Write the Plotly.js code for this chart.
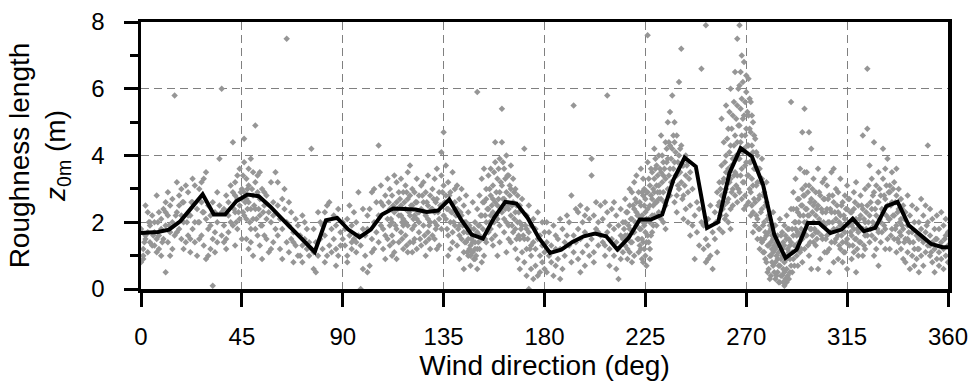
<!DOCTYPE html>
<html>
<head>
<meta charset="utf-8">
<script src="https://cdn.plot.ly/plotly-3.0.1.min.js"></script>
<style>html,body{margin:0;padding:0;background:#fff;}#chart{width:974px;height:385px;}</style>
</head>
<body>
<div id="chart"></div>
<script>
// Bin-averaged roughness length (5-degree bins)
const lineDir = [0,2.5,7.5,12.5,17.5,22.5,27.5,32.5,37.5,42.5,47.5,52.5,57.5,62.5,67.5,72.5,77.5,82.5,87.5,
  92.5,97.5,102.5,107.5,112.5,117.5,122.5,127.5,132.5,137.5,142.5,147.5,152.5,157.5,162.5,167.5,172.5,177.5,
  182.5,187.5,192.5,197.5,202.5,207.5,212.5,217.5,222.5,227.5,232.5,237.5,242.5,247.5,252.5,257.5,262.5,267.5,
  272.5,277.5,282.5,287.5,292.5,297.5,302.5,307.5,312.5,317.5,322.5,327.5,332.5,337.5,342.5,347.5,352.5,357.5,360];
const lineZ0m = [1.68,1.68,1.71,1.78,2.03,2.43,2.84,2.23,2.23,2.63,2.83,2.78,2.48,2.13,1.78,1.43,1.11,2.06,2.13,
  1.78,1.55,1.78,2.23,2.41,2.40,2.38,2.31,2.35,2.68,2.11,1.63,1.51,2.13,2.61,2.56,2.13,1.53,
  1.08,1.18,1.41,1.58,1.66,1.58,1.18,1.53,2.08,2.08,2.23,3.27,3.94,3.67,1.83,2.01,3.47,4.22,
  3.97,3.12,1.63,0.93,1.18,1.98,1.98,1.68,1.78,2.11,1.73,1.83,2.48,2.61,1.91,1.63,1.35,1.25,1.25];

// Individual observations [wind direction (deg), z0m (m)], estimated from the figure
const scatterPoints = [
[0,1.8],[1,1.2],[1,0.9],[2,1.5],[2,2.5],[3,1.1],[3,2.3],[4,1.4],[4,1.9],[5,1.3],[5,2.2],[0,0.8],[2,1.6],[4,2.0],[1,1.0],[3,1.7],
[6,1.3],[6,2.0],[7,2.8],[7,1.1],[8,1.6],[8,2.3],[9,1.0],[9,1.8],[10,1.5],[10,2.4],[6,1.7],[8,1.2],[9,2.1],[11,0.5],[7,1.5],
[11,2.6],[11,1.9],[12,1.4],[12,2.2],[13,1.7],[13,2.5],[14,1.2],[14,2.0],[12,2.9],[15,1.6],[15,5.8],[13,1.0],[11,2.3],[14,2.7],
[16,3.2],[16,2.3],[17,1.8],[17,2.8],[18,1.5],[18,3.0],[19,2.0],[19,2.6],[20,1.4],[20,3.1],[16,1.7],[18,2.2],[19,1.2],[17,2.5],
[21,1.6],[21,2.9],[22,2.2],[22,1.1],[23,2.6],[23,1.8],[24,3.1],[24,1.4],[25,2.4],[25,1.0],[21,2.2],[23,3.3],[24,2.0],[22,1.5],
[26,2.0],[26,3.0],[27,1.6],[27,2.6],[28,3.3],[28,1.3],[29,3.5],[29,2.1],[30,1.0],[30,2.5],[26,1.5],[27,3.2],[28,2.3],[29,0.9],[30,1.8],
[31,2.2],[31,1.2],[32,0.1],[32,2.6],[33,1.7],[33,2.3],[34,1.4],[34,2.0],[35,3.9],[35,2.5],[31,1.9],[33,1.1],[34,2.9],[32,1.5],
[36,6.0],[36,1.6],[37,2.4],[37,1.9],[38,2.8],[38,1.2],[39,2.2],[39,1.7],[40,3.1],[40,2.0],[36,2.3],[38,1.5],[39,2.6],[37,1.4],
[41,4.4],[41,2.9],[42,2.3],[42,3.2],[43,1.8],[43,2.7],[44,3.6],[44,2.1],[45,3.0],[45,1.5],[41,1.9],[42,1.3],[43,3.4],[44,2.5],[45,2.7],[42,2.8],
[46,4.5],[46,3.8],[46,2.9],[47,3.3],[47,2.1],[47,1.5],[48,3.1],[48,2.6],[48,1.2],[49,3.9],[49,2.4],[49,1.8],[50,3.5],[50,2.8],[50,1.0],[46,2.2],[47,2.7],[48,3.6],[49,1.4],[50,2.1],
[51,4.9],[51,3.2],[51,2.4],[52,2.9],[52,1.6],[52,3.4],[53,2.2],[53,1.3],[53,2.7],[54,3.0],[54,1.9],[54,0.9],[55,2.5],[55,1.6],[51,1.8],[53,3.5],[55,2.9],
[56,2.8],[56,1.5],[57,2.3],[57,1.1],[58,2.0],[58,3.2],[59,1.4],[59,2.6],[60,1.8],[60,3.5],[56,2.1],[58,1.2],[59,2.2],
[61,2.5],[61,1.6],[62,1.2],[62,2.1],[63,1.8],[63,0.9],[64,2.4],[64,3.0],[65,1.4],[65,7.5],[61,3.2],[63,2.7],[65,2.0],
[66,1.9],[66,1.1],[67,1.5],[67,2.3],[68,0.8],[68,1.7],[69,1.3],[69,2.1],[70,1.0],[70,1.9],[66,2.6],[68,1.4],
[71,1.6],[71,1.0],[72,1.3],[72,0.8],[73,2.0],[73,1.5],[74,1.2],[74,1.8],[75,1.0],[75,1.4],[72,2.2],
[76,4.2],[76,1.2],[77,0.6],[77,1.8],[78,0.5],[78,1.4],[79,2.3],[79,1.0],[80,2.0],[80,1.5],[77,1.1],
[81,1.9],[81,1.2],[82,1.6],[82,2.3],[83,1.0],[83,2.5],[84,2.6],[84,1.3],[85,1.8],[85,1.1],[82,0.8],
[86,1.5],[86,2.2],[87,1.2],[87,1.9],[88,2.4],[88,1.0],[89,1.7],[89,1.3],[90,2.0],[90,1.5],[87,0.7],
[91,1.8],[91,1.3],[92,2.1],[92,1.0],[93,1.6],[93,2.5],[94,1.2],[94,1.9],[95,1.5],[95,2.3],[92,0.8],[94,1.4],
[96,1.1],[96,2.0],[97,2.9],[97,1.6],[98,0.0],[98,1.3],[99,1.8],[99,2.4],[100,1.0],[100,1.6],[96,1.4],[99,0.6],
[101,0.5],[101,1.8],[102,0.7],[102,2.4],[103,1.5],[103,2.9],[104,2.0],[104,1.2],[105,2.6],[105,1.7],[101,2.2],[103,1.1],[104,3.0],
[106,4.3],[106,2.2],[106,1.4],[107,3.1],[107,1.9],[108,2.5],[108,1.2],[109,2.8],[109,1.6],[110,3.3],[110,2.1],[107,2.6],[108,1.8],[109,0.9],[110,1.5],
[111,2.4],[111,1.3],[111,3.0],[112,2.0],[112,2.8],[112,1.6],[113,3.4],[113,2.3],[113,1.1],[114,2.6],[114,1.8],[114,3.2],[115,2.2],[115,1.4],[115,2.9],[112,1.0],[114,0.9],[111,1.9],
[116,3.3],[116,2.5],[116,1.7],[117,2.1],[117,2.9],[117,1.2],[118,3.1],[118,2.4],[118,1.6],[119,2.7],[119,1.9],[119,3.5],[120,2.2],[120,1.4],[120,3.7],[117,1.9],[118,2.0],[119,1.1],[116,2.2],[120,2.8],
[121,2.5],[121,1.8],[121,3.0],[122,2.2],[122,1.5],[122,2.9],[123,2.6],[123,1.2],[123,3.3],[124,2.0],[124,1.7],[124,2.8],[125,2.4],[125,1.3],[125,3.1],[122,1.9],[124,2.3],[121,1.1],[123,2.1],
[126,2.6],[126,1.9],[126,3.2],[127,2.2],[127,1.4],[127,2.9],[128,2.5],[128,1.7],[128,3.4],[129,2.0],[129,1.2],[129,2.8],[130,2.4],[130,3.0],[130,1.6],[127,1.0],[128,2.1],
[131,2.3],[131,1.5],[131,3.3],[132,2.7],[132,1.9],[132,3.6],[133,2.1],[133,2.9],[133,1.3],[134,4.1],[134,2.5],[134,1.8],[135,4.7],[135,3.1],[135,2.2],[132,1.2],[134,3.4],[131,2.0],
[136,2.8],[136,2.1],[136,3.7],[137,2.4],[137,1.6],[137,3.2],[138,2.0],[138,2.9],[138,1.2],[139,3.5],[139,2.3],[139,1.7],[140,2.6],[140,1.9],[140,3.0],[137,1.0],[139,1.4],
[141,2.4],[141,1.3],[141,3.1],[142,1.9],[142,2.7],[142,0.9],[143,1.5],[143,2.2],[143,3.0],[144,1.7],[144,2.5],[144,1.1],[145,2.0],[145,1.4],[145,2.8],[142,1.6],[144,0.6],
[146,1.5],[146,1.0],[146,2.3],[147,1.3],[147,1.8],[147,0.7],[148,1.6],[148,2.6],[148,1.1],[149,1.4],[149,2.0],[149,0.9],[150,1.7],[150,1.2],[150,5.9],[150,2.4],[147,1.0],[148,1.4],[149,1.2],[146,1.7],[150,0.6],
[151,1.9],[151,1.2],[151,2.8],[152,2.2],[152,1.5],[152,3.3],[153,2.6],[153,1.0],[153,3.6],[154,2.0],[154,1.4],[154,3.0],[155,2.4],[155,1.7],[155,3.4],[152,0.8],[154,2.7],[151,1.6],
[156,2.8],[156,1.8],[156,3.6],[157,2.3],[157,3.1],[157,1.3],[158,4.4],[158,2.6],[158,3.8],[158,1.6],[159,3.3],[159,2.1],[159,1.0],[160,2.9],[160,3.9],[160,1.9],[156,2.2],[157,2.7],[159,2.5],[160,1.4],
[161,5.4],[161,4.4],[161,3.1],[161,2.3],[162,3.6],[162,2.7],[162,1.7],[163,4.0],[163,2.9],[163,2.0],[163,1.1],[164,3.4],[164,2.4],[164,1.5],[165,3.0],[165,2.2],[165,3.7],[162,2.1],[164,1.9],[165,1.4],
[166,2.6],[166,1.7],[166,3.3],[167,2.3],[167,1.2],[167,3.0],[168,2.0],[168,2.8],[168,0.9],[169,1.5],[169,2.5],[169,0.6],[170,1.9],[170,1.1],[170,2.7],[167,1.8],[169,2.0],
[171,4.2],[171,1.5],[171,0.8],[172,2.2],[172,1.2],[172,0.4],[173,1.7],[173,0.0],[173,2.5],[174,1.0],[174,1.9],[174,0.6],[175,1.4],[175,0.3],[175,2.1],[172,1.8],[174,1.3],
[176,1.2],[176,0.7],[176,1.8],[177,1.5],[177,0.4],[177,2.3],[178,1.0],[178,0.5],[178,1.6],[179,1.3],[179,0.8],[179,2.0],[180,1.1],[180,0.6],[180,1.7],
[181,1.4],[181,0.5],[181,2.0],[182,1.0],[182,1.7],[183,0.8],[183,1.3],[184,1.9],[184,0.4],[185,1.2],[185,0.7],[185,1.6],
[186,1.5],[186,0.9],[187,2.1],[187,1.2],[188,0.6],[188,1.8],[189,1.4],[189,1.0],[190,2.2],[190,1.6],[187,0.3],
[191,1.3],[191,2.0],[192,2.8],[192,0.8],[193,5.5],[193,1.6],[193,1.1],[194,2.4],[194,1.4],[195,1.8],[195,0.9],[195,2.3],
[196,1.5],[196,2.5],[197,1.1],[197,2.0],[198,1.7],[198,0.7],[199,2.4],[199,1.3],[200,2.1],[200,1.0],[196,0.5],[198,2.2],
[201,3.9],[201,3.4],[201,1.5],[202,2.2],[202,1.1],[203,1.8],[203,2.6],[204,1.3],[204,2.0],[205,1.6],[205,2.5],[202,0.8],[204,1.7],
[206,2.1],[206,1.4],[207,2.6],[207,1.0],[208,5.8],[208,1.7],[208,2.3],[209,1.2],[209,1.9],[210,2.4],[210,1.5],[207,1.3],[209,0.7],
[211,1.8],[211,1.0],[211,2.6],[212,1.4],[212,2.2],[212,0.6],[213,1.2],[213,1.9],[214,0.9],[214,2.4],[215,1.5],[215,1.1],[215,2.0],[213,0.3],[214,1.6],
[216,1.3],[216,2.0],[216,2.7],[217,1.6],[217,2.3],[217,0.9],[218,2.5],[218,1.8],[218,1.1],[219,2.9],[219,2.1],[219,1.4],[220,3.2],[220,2.4],[220,1.7],[217,1.2],[218,3.0],[219,0.8],[220,1.0],[216,1.6],
[221,2.6],[221,1.9],[221,3.4],[222,2.2],[222,1.5],[222,2.9],[223,3.6],[223,2.5],[223,1.8],[223,1.2],[224,2.0],[224,2.8],[224,1.4],[224,3.3],[225,2.3],[225,1.7],[225,1.0],[225,2.7],[222,1.1],[221,2.3],[223,2.1],[224,0.8],[225,2.0],
[226,7.6],[226,3.8],[226,2.4],[226,1.6],[227,3.1],[227,2.0],[227,1.2],[228,3.5],[228,2.7],[228,1.7],[229,4.2],[229,2.9],[229,2.2],[230,3.7],[230,2.6],[230,1.9],[227,2.5],[228,2.2],[229,3.3],[230,3.1],[226,2.9],[227,0.9],
[231,4.0],[231,3.1],[231,2.3],[232,3.5],[232,2.7],[232,4.6],[233,3.8],[233,2.9],[233,2.0],[234,4.4],[234,3.3],[234,2.5],[235,3.9],[235,3.0],[235,5.0],[232,2.1],[233,3.4],[234,1.8],[231,2.7],
[236,5.3],[236,3.6],[236,2.8],[237,5.8],[237,4.2],[237,3.2],[238,5.0],[238,3.8],[238,2.6],[239,4.6],[239,3.4],[239,2.3],[240,4.0],[240,3.0],[240,6.2],[238,4.4],[236,4.3],[239,2.8],
[241,7.2],[241,4.3],[241,3.2],[242,3.7],[242,2.8],[242,2.1],[243,4.0],[243,3.4],[243,2.4],[244,3.8],[244,2.9],[244,2.0],[245,3.5],[245,2.5],[245,1.6],
[246,1.9],[246,3.0],[247,0.9],[247,2.2],[248,1.7],[248,2.6],[249,1.3],[250,6.6],[250,2.0],[249,2.4],
[251,1.2],[251,1.9],[252,7.9],[252,1.5],[252,0.8],[253,2.1],[253,1.3],[254,1.0],[254,2.5],[255,0.6],[255,1.7],[253,0.9],
[256,1.5],[256,2.3],[257,2.0],[257,1.1],[258,3.2],[258,2.6],[259,3.7],[259,2.8],[259,5.1],[260,4.4],[260,3.3],[260,2.5],[257,2.9],[258,1.8],
[261,5.5],[261,4.0],[261,3.0],[261,2.2],[262,4.8],[262,3.6],[262,2.7],[263,6.0],[263,4.3],[263,3.3],[263,2.4],[264,5.2],[264,3.9],[264,3.0],[265,4.6],[265,3.5],[265,6.5],[262,2.0],[264,2.5],[265,2.8],[261,3.5],[263,1.8],
[266,7.5],[266,5.5],[266,4.4],[266,3.4],[267,6.1],[267,4.9],[267,3.9],[267,2.9],[268,5.7],[268,4.6],[268,3.6],[268,2.7],[269,6.8],[269,5.2],[269,4.2],[269,3.2],[270,5.9],[270,4.8],[270,3.8],[270,2.5],[267,7.9],[268,7.0],[266,2.6],[269,2.4],[270,6.4],
[271,6.3],[271,5.2],[271,4.3],[271,3.4],[272,5.6],[272,4.7],[272,3.8],[272,2.9],[273,5.0],[273,4.1],[273,3.1],[273,2.3],[274,4.5],[274,3.6],[274,2.6],[275,4.0],[275,3.2],[275,2.1],[272,2.2],[274,1.9],[275,1.5],[271,2.6],[273,1.7],
[276,3.6],[276,2.8],[276,1.8],[277,3.3],[277,2.4],[277,1.4],[278,2.9],[278,2.0],[278,1.1],[279,2.6],[279,1.6],[279,0.8],[280,2.2],[280,1.3],[280,0.6],[277,3.9],[279,3.2],[276,1.2],[278,1.5],[280,1.7],
[281,1.8],[281,1.0],[281,0.4],[282,1.5],[282,0.7],[282,2.3],[283,1.2],[283,0.3],[283,1.9],[284,0.9],[284,1.6],[284,0.5],[285,1.3],[285,0.2],[285,2.1],[282,1.1],[283,0.8],[284,1.3],[281,1.4],[285,0.7],[283,1.6],
[286,1.0],[286,0.4],[286,1.7],[287,0.8],[287,1.3],[287,0.1],[288,1.5],[288,0.6],[288,2.2],[289,1.1],[289,0.3],[289,1.8],[290,5.6],[290,1.4],[290,0.7],[290,2.4],[286,1.2],[287,0.5],[288,0.9],[289,1.5],[288,0.2],[287,1.9],
[291,1.6],[291,2.4],[291,0.9],[292,2.0],[292,1.3],[292,3.3],[293,2.7],[293,1.7],[293,0.7],[294,2.2],[294,1.1],[294,3.6],[295,4.7],[295,2.5],[295,1.5],[295,3.0],[292,1.8],[293,2.3],[294,1.6],[291,2.9],[295,0.8],
[296,5.4],[296,2.8],[296,2.0],[296,1.2],[297,3.5],[297,2.4],[297,1.6],[298,4.7],[298,3.1],[298,2.2],[298,1.0],[299,4.2],[299,2.7],[299,1.8],[300,3.3],[300,2.5],[300,1.4],[297,2.0],[299,0.6],[300,2.0],[296,3.5],
[301,2.9],[301,2.2],[301,1.3],[302,3.6],[302,2.5],[302,1.7],[303,2.0],[303,2.8],[303,0.9],[304,3.2],[304,2.3],[304,1.5],[305,2.7],[305,1.9],[305,1.1],[302,0.6],[304,1.9],[301,1.7],[305,3.3],
[306,2.4],[306,1.6],[306,3.1],[307,2.0],[307,2.8],[307,1.2],[308,3.5],[308,2.3],[308,1.4],[309,2.6],[309,1.8],[309,0.8],[310,3.0],[310,2.1],[310,1.5],[307,0.5],[309,3.6],[306,1.1],
[311,2.3],[311,1.6],[311,2.9],[312,1.9],[312,1.2],[312,3.3],[313,2.6],[313,1.4],[313,0.8],[314,2.1],[314,1.7],[314,2.8],[315,1.5],[315,2.4],[315,3.1],[312,2.2],[313,1.9],[314,1.1],[311,0.9],[315,0.6],
[316,2.0],[316,1.3],[316,2.7],[317,1.6],[317,2.3],[317,0.9],[318,2.9],[318,1.8],[318,1.1],[319,2.1],[319,1.5],[319,3.2],[320,1.7],[320,2.5],[320,1.0],[317,1.9],[319,0.5],[318,2.4],
[321,2.2],[321,1.4],[321,2.8],[322,4.6],[322,1.8],[322,2.4],[323,1.2],[323,2.0],[323,3.0],[324,6.6],[324,4.8],[324,1.6],[324,2.5],[325,3.7],[325,2.2],[325,1.4],[322,1.0],[323,1.6],
[326,3.3],[326,2.4],[326,1.6],[327,4.4],[327,2.9],[327,1.9],[328,3.1],[328,2.2],[328,1.2],[329,2.6],[329,1.7],[329,3.5],[330,2.0],[330,2.8],[330,1.4],[327,1.0],[329,0.7],
[331,4.2],[331,3.3],[331,2.3],[332,2.7],[332,1.8],[332,3.6],[333,3.9],[333,2.5],[333,1.5],[334,3.1],[334,2.1],[334,1.2],[335,3.5],[335,2.6],[335,1.8],[332,1.2],[334,2.9],
[336,3.2],[336,2.2],[336,1.5],[337,2.8],[337,1.9],[337,3.6],[338,2.4],[338,1.4],[338,3.0],[339,2.1],[339,1.2],[339,2.7],[340,1.8],[340,2.5],[340,0.9],[337,1.1],[339,1.6],
[341,2.3],[341,1.5],[341,0.8],[342,1.9],[342,2.8],[342,1.1],[343,1.4],[343,2.2],[343,0.6],[344,2.5],[344,1.7],[345,1.2],[345,2.0],[345,0.7],[342,1.5],[344,1.0],
[346,1.6],[346,2.4],[346,0.9],[347,1.2],[347,2.0],[347,0.5],[348,1.8],[348,2.7],[348,1.0],[349,1.4],[349,2.2],[349,0.7],[350,1.7],[350,1.1],[350,2.5],[347,1.5],
[351,4.3],[351,1.3],[351,2.0],[352,1.0],[352,1.6],[352,2.4],[353,0.8],[353,1.4],[353,2.1],[354,1.2],[354,1.8],[354,0.5],[355,1.5],[355,2.2],[355,0.9],[352,1.3],
[356,1.1],[356,1.8],[356,0.7],[357,1.4],[357,2.3],[357,0.9],[358,1.2],[358,1.9],[358,0.6],[359,1.6],[359,1.0],[359,2.1],[360,1.3],[360,0.8],[360,1.7]
];

// Additional observations in the densest parts of the cloud, estimated from the figure
const scatterPointsDense = [
[1.5,1.4],[3.5,2.0],[5.5,1.6],[7.5,2.0],[9.5,1.4],[12.5,1.9],[15.5,2.2],[18.5,2.6],[20.5,2.0],[22.5,2.6],[25.5,2.0],[27.5,2.3],
[41.5,2.4],[42.5,2.0],[43.5,2.3],[44.5,2.9],[45.5,2.3],[46.5,2.6],[47.5,2.4],[48.5,2.0],[49.5,3.0],[50.5,2.5],[51.5,2.1],[52.5,2.4],[53.5,1.9],[54.5,2.3],[45.5,3.4],[47.5,3.0],
[110.5,2.6],[111.5,2.1],[112.5,2.5],[113.5,1.9],[114.5,2.4],[115.5,2.7],[116.5,2.0],[117.5,2.6],[118.5,2.9],[119.5,2.3],[120.5,2.5],[121.5,2.1],[122.5,2.6],[123.5,2.3],[124.5,1.5],[125.5,2.8],[126.5,2.3],[127.5,2.6],[128.5,1.9],[129.5,2.4],[130.5,2.7],[131.5,2.6],[132.5,2.3],[133.5,2.5],[134.5,2.9],[135.5,2.6],[136.5,2.4],[137.5,2.8],[138.5,2.3],[139.5,2.0],[112.5,1.4],[116.5,1.5],[121.5,1.4],[126.5,1.6],[131.5,1.8],[136.5,1.8],[118.5,1.3],[128.5,1.5],
[140.5,2.2],[141.5,1.8],[142.5,2.3],[143.5,1.9],[144.5,1.4],[145.5,1.7],[146.5,1.2],[147.5,1.5],[148.5,0.9],[149.5,1.6],[146.5,1.9],[147.5,1.1],[148.5,1.8],[149.5,1.0],[145.5,1.1],[144.5,2.0],[150.5,1.4],[151.5,2.2],[152.5,1.8],[153.5,2.2],[154.5,2.4],[155.5,2.0],[156.5,2.5],[157.5,2.0],[158.5,2.9],[159.5,2.7],[160.5,3.2],[161.5,2.7],[162.5,3.3],[163.5,2.5],[164.5,2.8],[165.5,2.5],[166.5,2.1],[167.5,2.5],[168.5,1.6],[169.5,1.8],[150.5,1.9],[152.5,2.6],[155.5,3.0],[157.5,3.5],[159.5,3.6],[161.5,3.8],[163.5,3.4],[165.5,1.9],[167.5,1.5],[158.5,2.2],[160.5,2.4],[162.5,2.4],[164.5,3.1],[156.5,1.5],[153.5,1.5],[170.5,1.6],[171.5,1.9],[172.5,1.5],[173.5,1.2],[166.5,2.9],[168.5,2.3],
[215.5,1.8],[216.5,2.3],[217.5,1.9],[218.5,2.1],[219.5,2.5],[220.5,2.0],[221.5,2.2],[222.5,2.6],[222.5,1.8],[222.5,1.3],[223.5,2.9],[223.5,2.2],[223.5,1.5],[223.5,0.9],[224.5,2.5],[224.5,1.9],[224.5,1.2],[224.5,3.0],[225.5,2.1],[225.5,1.4],[225.5,2.9],[225.5,0.7],[226.5,2.1],[226.5,3.3],[226.5,1.4],[227.5,2.8],[227.5,1.6],[227.5,3.6],[228.5,2.5],[228.5,3.0],[228.5,1.9],[229.5,3.6],[229.5,2.6],[229.5,3.9],[230.5,2.9],[230.5,3.4],[230.5,2.2],[231.5,3.6],[231.5,2.9],[232.5,3.2],[232.5,4.0],[233.5,3.6],[233.5,2.6],[234.5,3.8],[234.5,4.2],[235.5,3.4],[235.5,4.4],[236.5,3.9],[236.5,3.2],[237.5,3.6],[237.5,4.6],[238.5,3.4],[238.5,4.1],[239.5,3.8],[239.5,3.1],[240.5,3.5],[240.5,4.2],[241.5,3.7],[241.5,2.7],[242.5,3.1],[243.5,3.7],[244.5,3.3],[221.5,1.5],[220.5,2.7],[219.5,1.7],[218.5,1.4],
[256.5,2.0],[257.5,2.5],[258.5,3.0],[258.5,2.2],[259.5,1.7],[259.5,3.2],[259.5,2.4],[260.5,2.1],[260.5,3.8],[260.5,2.9],[261.5,4.5],[261.5,2.6],[262.5,4.1],[262.5,3.2],[262.5,5.3],[263.5,3.7],[263.5,4.8],[263.5,2.9],[264.5,4.3],[264.5,3.4],[264.5,5.6],[265.5,4.0],[265.5,5.1],[265.5,3.1],[266.5,4.9],[266.5,3.9],[266.5,6.0],[266.5,3.0],[267.5,4.4],[267.5,5.4],[267.5,3.4],[267.5,6.5],[268.5,4.1],[268.5,5.1],[268.5,3.2],[268.5,6.2],[269.5,4.6],[269.5,3.7],[269.5,5.6],[269.5,2.8],[270.5,4.3],[270.5,5.3],[270.5,3.4],[271.5,4.8],[271.5,3.8],[271.5,5.7],[271.5,3.0],[272.5,4.3],[272.5,3.3],[272.5,5.2],[272.5,2.5],[273.5,3.6],[273.5,4.6],[273.5,2.7],[274.5,4.1],[274.5,3.1],[274.5,2.2],[275.5,3.6],[275.5,2.7],[275.5,1.8],[276.5,3.2],[276.5,2.3],[276.5,1.5],[277.5,2.8],[277.5,1.9],[277.5,1.1],[278.5,2.5],[278.5,1.7],[278.5,0.9],[279.5,2.1],[279.5,1.3],[279.5,0.5],[280.5,1.9],[280.5,1.0],[280.5,0.3],[281.5,1.6],[281.5,0.8],[281.5,1.2],[282.5,1.3],[282.5,0.5],[282.5,1.9],[283.5,1.0],[283.5,0.4],[283.5,1.4],[284.5,1.1],[284.5,0.2],[284.5,0.7],[285.5,0.9],[285.5,1.6],[285.5,0.4],[286.5,0.6],[286.5,1.4],[286.5,0.2],[287.5,1.0],[287.5,0.3],[287.5,1.6],[288.5,1.2],[288.5,0.4],[288.5,1.8],[289.5,0.9],[289.5,1.3],[289.5,0.5],[290.5,1.1],[290.5,1.8],[290.5,0.5],[291.5,1.3],[291.5,2.0],[291.5,0.7],[292.5,1.6],[292.5,2.4],[292.5,1.0],[293.5,2.0],[293.5,1.4],[293.5,2.7],[294.5,1.8],[294.5,2.5],[294.5,1.2],[295.5,2.2],[295.5,1.7],[295.5,2.8],[296.5,2.4],[296.5,1.6],[296.5,3.1],[297.5,2.2],[297.5,1.3],[297.5,2.9],[298.5,2.6],[298.5,1.8],[298.5,1.4],[299.5,2.3],[299.5,3.0],[299.5,1.6],
[300.5,2.6],[300.5,1.8],[301.5,2.4],[301.5,1.5],[302.5,2.1],[302.5,2.9],[303.5,2.4],[303.5,1.6],[304.5,2.0],[304.5,2.7],[305.5,2.3],[305.5,1.5],[306.5,2.0],[306.5,2.7],[307.5,1.7],[307.5,2.4],[308.5,2.0],[308.5,2.8],[309.5,2.3],[309.5,1.4],[310.5,1.8],[310.5,2.5],[311.5,2.0],[311.5,1.3],[312.5,2.5],[312.5,1.6],[313.5,2.2],[313.5,1.1],[314.5,2.4],[314.5,1.4],[315.5,1.9],[315.5,2.7],[316.5,1.7],[316.5,2.3],[317.5,2.0],[317.5,1.3],[318.5,1.5],[318.5,2.6],[319.5,1.8],[319.5,1.2],[320.5,2.1],[320.5,1.4],[321.5,1.8],[321.5,2.5],[322.5,2.1],[322.5,1.3],[323.5,2.3],[323.5,1.8],[324.5,2.0],[324.5,3.1],[325.5,1.8],[325.5,2.6],[326.5,2.0],[326.5,2.8],[327.5,2.4],[327.5,1.5],[328.5,2.6],[328.5,1.8],[329.5,2.1],[329.5,3.0],[330.5,2.4],[330.5,1.7],[331.5,2.8],[331.5,1.9],[332.5,2.2],[332.5,3.1],[333.5,2.1],[333.5,2.9],[334.5,2.5],[334.5,1.6],[335.5,2.2],[335.5,3.0],[336.5,2.6],[336.5,1.8],[337.5,2.3],[337.5,1.5],[338.5,2.0],[338.5,1.7],[339.5,1.9],[339.5,2.4],[340.5,1.4],[340.5,2.1],[342.5,1.7],[344.5,1.4],[346.5,1.2],[348.5,1.5],[350.5,1.9],[352.5,1.1],[354.5,1.5],[356.5,1.3],[358.5,1.5]
];

const xTicks = [0,45,90,135,180,225,270,315,360];
const yTicks = [0,2,4,6,8];

const FONT = 'Liberation Sans, Arial, Helvetica, sans-serif';

const allPoints = scatterPoints.concat(scatterPointsDense);
const scatterTrace = {
  type: 'scatter', mode: 'markers',
  x: allPoints.map(p => p[0]),
  y: allPoints.map(p => p[1]),
  marker: {symbol: 'diamond', size: 5, color: 'rgb(150,150,150)', line: {width: 0}},
  hoverinfo: 'skip', showlegend: false
};
const lineTrace = {
  type: 'scatter', mode: 'lines',
  x: lineDir, y: lineZ0m,
  line: {color: '#000', width: 4},
  hoverinfo: 'skip', showlegend: false
};

const layout = {
  width: 974, height: 385,
  margin: {l: 141, r: 26, t: 22, b: 96, pad: 0},
  paper_bgcolor: '#fff', plot_bgcolor: '#fff',
  font: {family: FONT, color: '#000', size: 24},
  showlegend: false,
  xaxis: {
    range: [0, 360], tickvals: xTicks, ticktext: xTicks.map(String),
    showline: true, linecolor: '#000', linewidth: 3.5, mirror: true,
    ticks: 'outside', ticklen: 14, tickwidth: 3, tickcolor: '#000',
    ticklabelstandoff: 10,
    showgrid: true, gridcolor: '#808080', gridwidth: 1, griddash: '8px,5px',
    zeroline: false,
    tickfont: {family: FONT, size: 24, color: '#000'},
    title: {text: 'Wind direction (deg)', font: {family: FONT, size: 28, color: '#000'}, standoff: 6}
  },
  yaxis: {
    range: [0, 8], tickvals: yTicks, ticktext: yTicks.map(String),
    showline: true, linecolor: '#000', linewidth: 3.5, mirror: true,
    ticks: 'outside', ticklen: 14, tickwidth: 3, tickcolor: '#000',
    ticklabelstandoff: 14,
    minor: {dtick: 1, tick0: 0, ticks: 'outside', ticklen: 8, tickwidth: 3, tickcolor: '#000', showgrid: false},
    showgrid: true, gridcolor: '#808080', gridwidth: 1, griddash: '8px,5px',
    zeroline: false,
    tickfont: {family: FONT, size: 24, color: '#000'},
    title: {text: 'Roughness length<br><i>z</i><sub>0m</sub> (m)', font: {family: FONT, size: 28, color: '#000'}, standoff: 18}
  }
};

Plotly.newPlot('chart', [scatterTrace, lineTrace], layout, {staticPlot: true, displayModeBar: false});
</script>
</body>
</html>
